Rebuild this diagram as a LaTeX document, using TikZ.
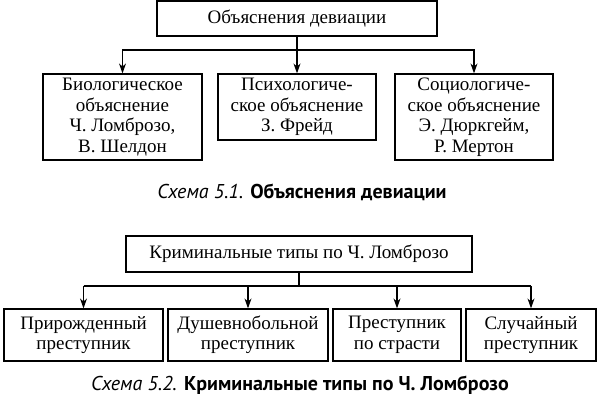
\documentclass[tikz,border=0pt]{standalone}
\usepackage{fontspec}
\setmainfont{Liberation Serif}
\newfontfamily\capfont{PT Sans}
\usetikzlibrary{arrows.meta}
\tikzset{
  box/.style={draw, line width=1.2pt, inner sep=0pt, align=center,
    font=\fontsize{19}{20.5}\selectfont},
  arr/.style={line width=1.2pt, -{Stealth[length=10pt,width=7pt]}},
  link/.style={line width=1.2pt},
  captext/.style={font=\capfont\fontsize{20}{22}\selectfont, inner sep=0pt}
}
\begin{document}
\begin{tikzpicture}[x=1pt,y=-1pt]
\useasboundingbox (0,0) rectangle (600,403);
% Diagram 5.1
\node[box, minimum width=280pt, minimum height=35pt] (top) at (297,18.5) {Объяснения девиации};
\node[box, minimum width=159pt, minimum height=86pt] (b1) at (122.5,117) {Биологическое\\объяснение\\Ч. Ломброзо,\\В. Шелдон};
\node[box, minimum width=158pt, minimum height=66pt] (b2) at (297,107) {Психологиче-\\ское объяснение\\З. Фрейд};
\node[box, minimum width=158pt, minimum height=86pt] (b3) at (474,117) {Социологиче-\\ское объяснение\\Э. Дюркгейм,\\Р. Мертон};
\coordinate (j1) at (297,50);
\draw[link] (top.south) -- (j1);
\draw[arr] (j1) -| (b1.north);
\draw[arr] (j1) -| (b3.north);
\draw[arr] (j1) -- (b2.north);
\node[captext] (c51) at (302,192) {\itshape Схема 5.1. \bfseries\upshape Объяснения девиации};
% Diagram 5.2
\node[box, minimum width=346pt, minimum height=36pt] (k) at (299,254) {Криминальные типы по Ч. Ломброзо};
\node[box, minimum width=159pt, minimum height=52pt] (c1) at (83.5,335) {Прирожденный\\преступник};
\node[box, minimum width=160pt, minimum height=52pt] (c2) at (248,335) {Душевнобольной\\преступник};
\node[box, minimum width=128pt, minimum height=52pt] (c3) at (397,335) {Преступник\\по страсти};
\node[box, minimum width=130pt, minimum height=52pt] (c4) at (531,335) {Случайный\\преступник};
\coordinate (j2) at (299,286);
\draw[link] (k.south) -- (j2);
\draw[link] (c1.north |- j2) -- (c4.north |- j2);
\foreach \n in {c1,c2,c3,c4} { \draw[arr] (\n.north |- j2) -- (\n.north); }
\node[captext] (c52) at (300,385) {\itshape Схема 5.2. \bfseries\upshape Криминальные типы по Ч. Ломброзо};
\end{tikzpicture}
\end{document}
